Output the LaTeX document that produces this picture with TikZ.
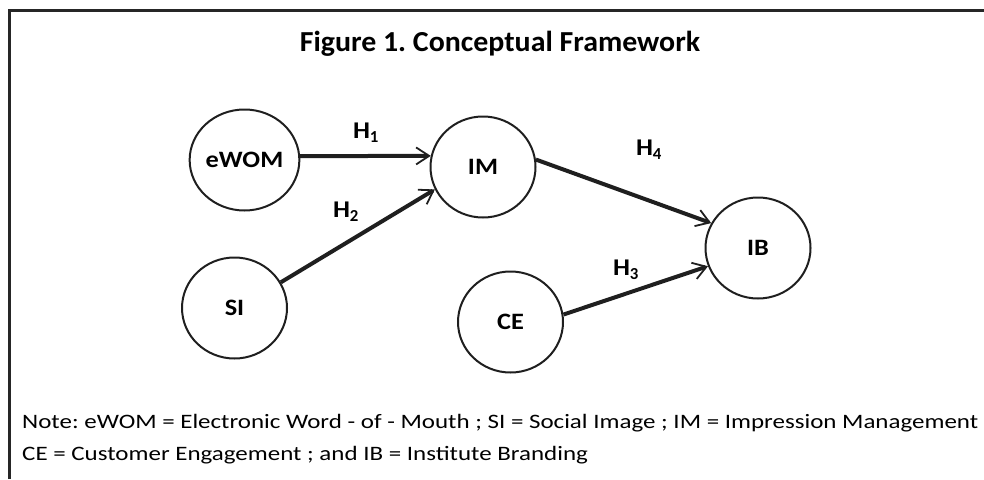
\documentclass[tikz,border=0pt]{standalone}
\usepackage{fontspec}
\setmainfont{Carlito}
\newfontfamily\notefont[FakeStretch=1.218]{Carlito}
\newfontfamily\titlefont[FakeStretch=1.03]{Carlito}
\newfontfamily\labfont[FakeStretch=1.12]{Carlito}
\usetikzlibrary{arrows.meta,shapes.geometric}
\frenchspacing
\begin{document}
\begin{tikzpicture}[x=1pt,y=-1pt,
  var/.style={ellipse,draw=black!88,line width=2pt,minimum width=105pt,minimum height=101pt,inner sep=0pt,font=\labfont\fontsize{23.5}{26}\selectfont\bfseries},
  hyp/.style={draw=black!88,line width=4pt,-{Straight Barb[length=13pt,width=17pt,line width=1.8pt]}},
  hlab/.style={font=\labfont\fontsize{24}{26}\selectfont\bfseries,inner sep=0pt},
  note/.style={font=\notefont\fontsize{20.5}{24}\selectfont,anchor=base west,inner sep=0pt}]
\useasboundingbox (0,0) rectangle (984,479);
\draw[line width=3pt,black!85] (9,479) -- (9,10.5) -- (984,10.5);
\node[font=\titlefont\fontsize{29}{32}\selectfont\bfseries,anchor=base,inner sep=0pt] (title) at (500,51.7) {Figure 1. Conceptual Framework};
\node[var] (ewom) at (244.5,160) {eWOM};
\node[var] (im) at (483,167) {IM};
\node[var] (si) at (234.5,308) {SI};
\node[var] (ce) at (510.5,322) {CE};
\node[var] (ib) at (758,248) {IB};
\draw[hyp] (ewom.4) -- (im.168);
\draw[hyp] (si.29) -- (im.205);
\draw[hyp] (im.8) -- (ib.152);
\draw[hyp] (ce.8) -- (ib.200);
\node[hlab] (h1) at (366,133) {H$_{\mathbf 1}$};
\node[hlab] (h2) at (346,212) {H$_{\mathbf 2}$};
\node[hlab] (h3) at (626,270) {H$_{\mathbf 3}$};
\node[hlab] (h4) at (649,150) {H$_{\mathbf 4}$};
\node[note] (n1) at (22,428) {Note: eWOM = Electronic Word - of - Mouth ; SI = Social Image ; IM = Impression Management};
\node[note] (n2) at (22,460) {CE = Customer Engagement ; and IB = Institute Branding};
\end{tikzpicture}
\end{document}
